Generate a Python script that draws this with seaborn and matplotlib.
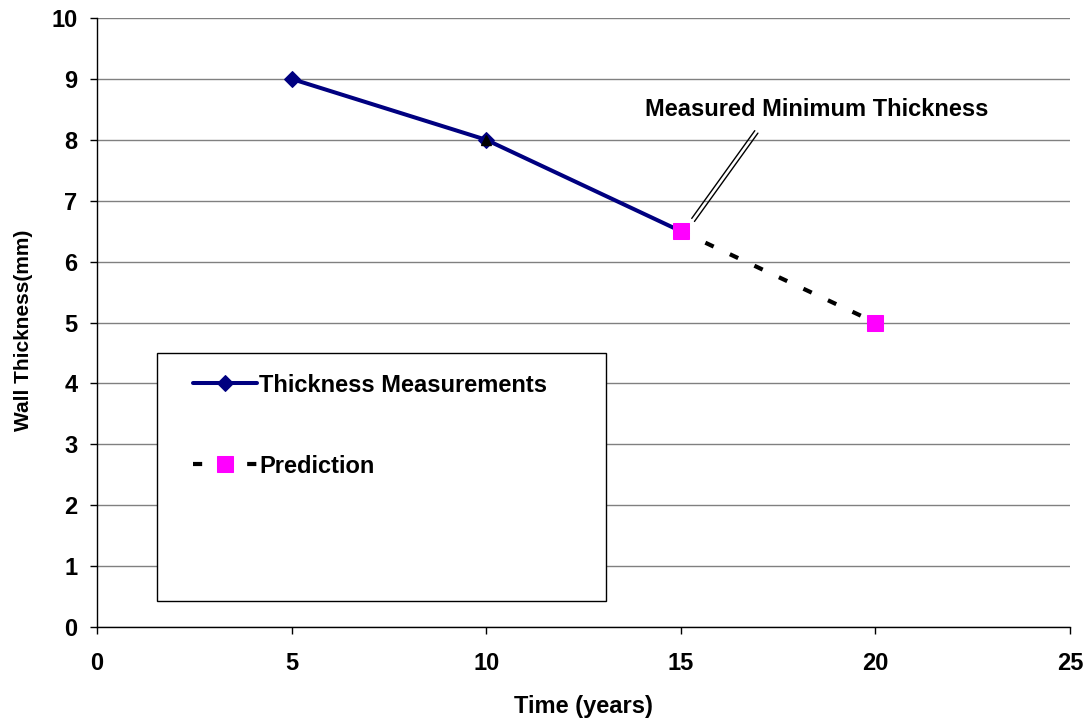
import matplotlib
matplotlib.use("Agg")
import matplotlib.pyplot as plt
from matplotlib.patches import Rectangle
import seaborn as sns

# Data
meas_years = [5, 10, 15]
meas_thick = [9, 8, 6.5]
pred_years = [15, 20]
pred_thick = [6.5, 5]
odd_years = [10]
odd_thick = [8]
x_ticks = [0, 5, 10, 15, 20, 25]
y_ticks = [0, 1, 2, 3, 4, 5, 6, 7, 8, 9, 10]

sns.set_style("white")
plt.rcParams['font.family'] = ['Liberation Sans', 'DejaVu Sans']
plt.rcParams['font.weight'] = 'bold'
plt.rcParams['text.color'] = 'black'
plt.rcParams['axes.labelcolor'] = 'black'
plt.rcParams['xtick.color'] = 'black'
plt.rcParams['ytick.color'] = 'black'

FS = 17

fig = plt.figure(figsize=(10.9, 7.2), dpi=100)
ax = fig.add_axes([0.089, 0.129, 0.8927, 0.846])

navy = "#000080"
magenta = "#FF00FF"

sns.lineplot(x=meas_years, y=meas_thick, ax=ax, color=navy, lw=2.9,
             marker="D", markersize=8, markeredgecolor=navy,
             label="Thickness Measurements", zorder=3)
sns.lineplot(x=pred_years, y=pred_thick, ax=ax, color="black", lw=3,
             linestyle=(0, (2.2, 4.3)), marker="s", markersize=12,
             markerfacecolor=magenta, markeredgecolor=magenta,
             label="Prediction", zorder=4)
ax.plot(odd_years, odd_thick, linestyle="none", marker="^", color="black",
        markersize=7, zorder=5)

ax.set_xlim(0, 25)
ax.set_ylim(0, 10)
ax.set_xticks(x_ticks)
ax.set_yticks(y_ticks)
ax.yaxis.grid(True, color="#808080", lw=1)
ax.xaxis.grid(False)
for s in ["top", "right"]:
    ax.spines[s].set_visible(False)
for s in ["left", "bottom"]:
    ax.spines[s].set_color("black")
    ax.spines[s].set_linewidth(1)
ax.tick_params(axis="both", which="major", direction="out", length=5,
               width=1, color="black", labelsize=FS, left=True, bottom=True)
for lab in ax.get_xticklabels() + ax.get_yticklabels():
    lab.set_fontweight("bold")
ax.tick_params(axis="x", pad=13)
ax.tick_params(axis="y", pad=9)

ax.set_xlabel("Time (years)", fontsize=FS, fontweight="bold", labelpad=14)
ax.set_ylabel("Wall Thickness(mm)", fontsize=15, fontweight="bold")
ax.yaxis.set_label_coords(-0.0658, 0.488)

# Legend box
rect = Rectangle((0.0617, 0.0427), 0.4613, 0.4073, transform=ax.transAxes,
                 facecolor="white", edgecolor="black", lw=1, zorder=6)
ax.add_patch(rect)
leg = ax.legend(loc="upper left", bbox_to_anchor=(0.0987, 0.416), frameon=False,
                labelspacing=2.45, handlelength=2.7, borderpad=0,
                borderaxespad=0, handletextpad=0.1,
                prop={"weight": "bold", "size": FS})
leg.set_zorder(7)

ax.annotate("Measured Minimum Thickness", xy=(18.5, 8.49), ha="center",
            va="center", fontsize=FS, fontweight="bold")
ax.annotate("", xy=(15.28, 6.71), xytext=(16.90, 8.15),
            arrowprops=dict(arrowstyle="-", color="black", lw=1,
                            shrinkA=0, shrinkB=0))
ax.annotate("", xy=(15.35, 6.66), xytext=(16.98, 8.11),
            arrowprops=dict(arrowstyle="-", color="black", lw=1,
                            shrinkA=0, shrinkB=0))

fig.savefig("out.png", dpi=100)
